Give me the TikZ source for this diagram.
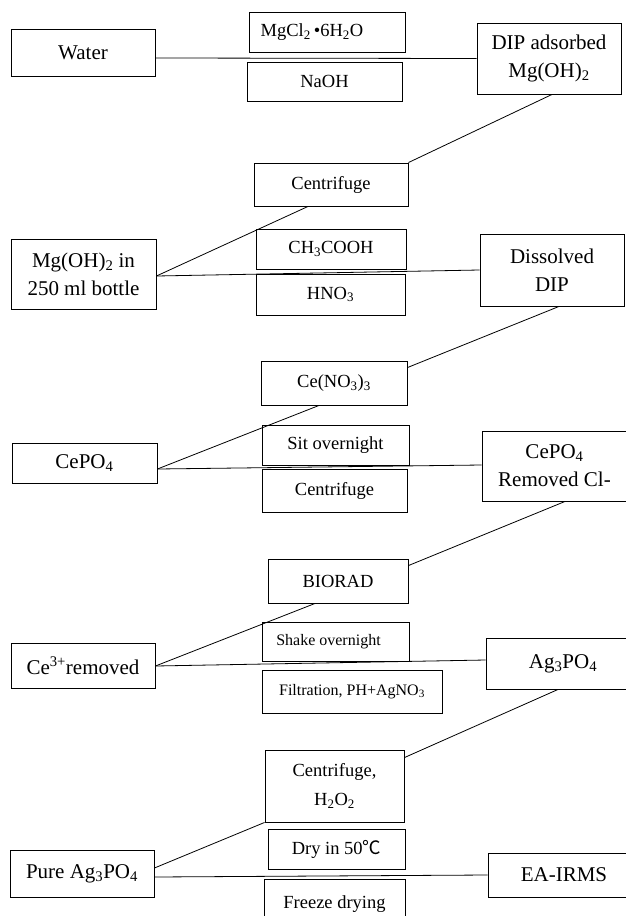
\documentclass[tikz,border=0pt]{standalone}
\usepackage{fontspec}
\setmainfont{Liberation Serif}
\newfontfamily\cjk{Noto Sans CJK SC}
\usetikzlibrary{calc}
\tikzset{
  box/.style={draw, line width=0.9pt, inner sep=0pt, align=center, font=\fontsize{21}{28}\selectfont},
  sbox/.style={box, font=\fontsize{18.5}{29}\selectfont},
  tbox/.style={box, font=\fontsize{16}{20}\selectfont},
  link/.style={line width=0.8pt},
}
\newcommand{\bx}[6]{\node[#1, minimum width=#4pt, minimum height=#5pt] (#2) at (#3) {#6};}
\begin{document}
\begin{tikzpicture}[x=1pt,y=-1pt]
\useasboundingbox[fill=white] (0,0) rectangle (625,916);
% left column
\bx{box}{water}{83,52.5}{144}{47}{Water}
\bx{box}{mgoh}{83.5,274}{145}{70}{Mg(OH)\textsubscript{2} in\\250 ml bottle}
\bx{box}{cepo}{84.5,463}{145}{40}{CePO\textsubscript{4}}
\bx{box}{ce}{83,665.5}{144}{45}{Ce\textsuperscript{3+}removed}
\bx{box}{pure}{82,873.5}{144}{47}{Pure Ag\textsubscript{3}PO\textsubscript{4}}
% middle column
\bx{sbox}{mgcl}{327,32}{156}{40}{MgCl\textsubscript{2}\,•6H\textsubscript{2}O\hspace*{30pt}}
\bx{sbox}{naoh}{324.5,81.5}{155}{39}{NaOH}
\bx{sbox}{cenA}{331,184.5}{154}{43}{Centrifuge}
\bx{sbox}{chcooh}{331,249}{150}{40}{CH\textsubscript{3}COOH}
\bx{sbox}{hno}{330.5,294.5}{149}{41}{HNO\textsubscript{3}}
\bx{sbox}{cenitrate}{334,383}{146}{44}{Ce(NO\textsubscript{3})\textsubscript{3}}
\bx{sbox}{sit}{335.5,445}{147}{40}{Sit overnight}
\bx{sbox}{cenB}{334.5,490.5}{145}{43}{Centrifuge}
\bx{sbox}{biorad}{338,581}{140}{44}{BIORAD}
\bx{tbox}{shake}{335.5,641.5}{147}{39}{Shake overnight\hspace*{14pt}}
\bx{tbox}{filt}{352,691.5}{180}{43}{Filtration, PH+AgNO\textsubscript{3}}
\bx{sbox}{cenC}{334.5,786}{139}{72}{Centrifuge,\\H\textsubscript{2}O\textsubscript{2}}
\bx{sbox}{dry}{336.5,849}{137}{40}{Dry in 50{\cjk ℃}}
\bx{sbox}{freeze}{334.5,904.5}{141}{51}{\raisebox{5pt}{Freeze drying}}
% right column
\bx{box}{dipads}{549,58.5}{144}{71}{DIP adsorbed\\Mg(OH)\textsubscript{2}}
\bx{box}{dissolved}{552,270}{144}{72}{Dissolved\\DIP}
\bx{box}{ceporem}{554.5,466}{145}{70}{CePO\textsubscript{4}\\Removed Cl-}
\bx{box}{agpo}{563,663.5}{154}{51}{Ag\textsubscript{3}PO\textsubscript{4}}
\bx{box}{ea}{564,875}{152}{44}{EA-IRMS}
% connectors
\draw[link] ([yshift=-5.5pt]water.east) -- (dipads.west);
\draw[link] ([xshift=3pt]dipads.south) -- (cenA.north east);
\draw[link] ([xshift=-23pt]cenA.south) -- ([yshift=-2pt]mgoh.east);
\draw[link] ([yshift=-2pt]mgoh.east) -- (dissolved.west);
\draw[link] ([xshift=7pt]dissolved.south) -- ([yshift=-7pt]cenitrate.north east);
\draw[link] ([xshift=-15pt]cenitrate.south) -- ([yshift=-6pt]cepo.east);
\draw[link] ([yshift=-6pt]cepo.east) -- ([yshift=1pt]ceporem.west);
\draw[link] ([xshift=10.5pt]ceporem.south) -- ([yshift=-7pt]biorad.north east);
\draw[link] ([xshift=-23pt]biorad.south) -- ([yshift=-0.5pt]ce.east);
\draw[link] ([yshift=-0.5pt]ce.east) -- ([yshift=3.5pt]agpo.west);
\draw[link] ([xshift=-5pt]agpo.south) -- ([yshift=-8pt]cenC.north east);
\draw[link] (cenC.south west) -- ([yshift=5.5pt]pure.east);
\draw[link] ([yshift=-3.5pt]pure.east) -- (ea.west);
\end{tikzpicture}
\end{document}
